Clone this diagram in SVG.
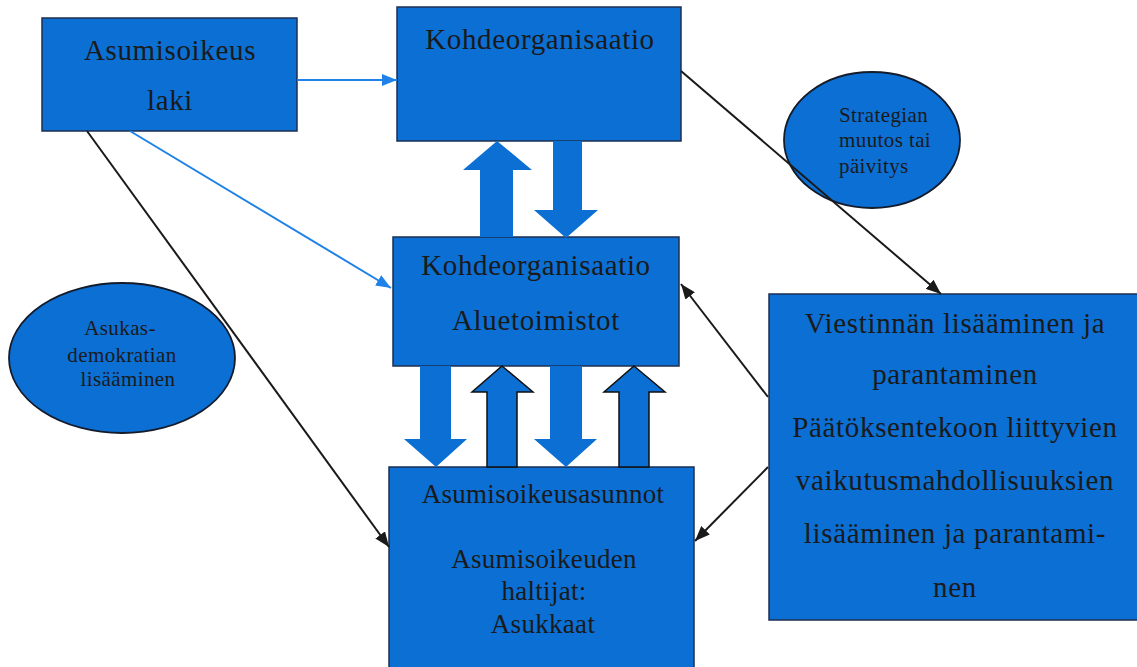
<svg xmlns="http://www.w3.org/2000/svg" width="1137" height="667" viewBox="0 0 1137 667">
<style>
.box{fill:#0b6fd4;stroke:#1c2f52;stroke-width:1.5}
.ell{fill:#0b6fd4;stroke:#141c2c;stroke-width:1.8}
.t{font-family:"Liberation Serif","Times New Roman",serif;fill:#1a1a1a;text-anchor:middle}
.big{font-size:29px;letter-spacing:0.65px}
.mid{font-size:27px;letter-spacing:0.3px}
.sm{font-size:21px;letter-spacing:0.4px}
.st{text-anchor:start}
.blk{stroke:#1a1a1a;stroke-width:2;fill:none}
.blu{stroke:#1f82e6;stroke-width:2;fill:none}
.ba{fill:#0b6fd4}
.bao{fill:#0b6fd4;stroke:#111;stroke-width:1.5}
</style>
<defs>
<marker id="ab" viewBox="0 0 15 12" refX="15" refY="6" markerWidth="15" markerHeight="12" markerUnits="userSpaceOnUse" orient="auto">
<path d="M0,0 L15,6 L0,12 z" fill="#1a1a1a"/>
</marker>
<marker id="au" viewBox="0 0 15 12" refX="15" refY="6" markerWidth="15" markerHeight="12" markerUnits="userSpaceOnUse" orient="auto">
<path d="M0,0 L15,6 L0,12 z" fill="#1f82e6"/>
</marker>
</defs>
<rect width="1137" height="667" fill="#ffffff"/>

<g id="laki">
<rect class="box" x="42" y="18" width="255" height="113"/>
<text class="t big" x="170" y="60">Asumisoikeus</text>
<text class="t big" x="170" y="110">laki</text>
</g>

<g id="kohde">
<rect class="box" x="397" y="7" width="284" height="134"/>
<text class="t big" x="540" y="49">Kohdeorganisaatio</text>
</g>

<g id="alue">
<rect class="box" x="393" y="237" width="286" height="129"/>
<text class="t big" x="536" y="275">Kohdeorganisaatio</text>
<text class="t big" x="536" y="330">Aluetoimistot</text>
</g>

<g id="asunnot">
<rect class="box" x="389" y="467" width="305" height="210"/>
<text class="t mid" x="543" y="503">Asumisoikeusasunnot</text>
<text class="t mid" x="544" y="568">Asumisoikeuden</text>
<text class="t mid" x="544" y="600">haltijat:</text>
<text class="t mid" x="543" y="633">Asukkaat</text>
</g>

<g id="viestinta">
<rect class="box" x="769" y="294" width="370" height="326"/>
<text class="t big" x="955" y="333">Viestinnän lisääminen ja</text>
<text class="t big" x="955" y="384">parantaminen</text>
<text class="t big" x="955" y="437">Päätöksentekoon liittyvien</text>
<text class="t big" x="955" y="490">vaikutusmahdollisuuksien</text>
<text class="t big" x="955" y="543">lisääminen ja parantami-</text>
<text class="t big" x="955" y="597">nen</text>
</g>

<g id="strategia">
<ellipse class="ell" cx="872" cy="140" rx="88" ry="68"/>
<text class="t sm st" x="839" y="122">Strategian</text>
<text class="t sm st" x="839" y="147">muutos tai</text>
<text class="t sm st" x="839" y="173">päivitys</text>
</g>

<g id="demokratia">
<ellipse class="ell" cx="122" cy="358" rx="113" ry="75"/>
<text class="t sm" x="120" y="335">Asukas-</text>
<text class="t sm" x="122" y="362">demokratian</text>
<text class="t sm" x="128" y="386">lisääminen</text>
</g>

<g id="connectors">
<line class="blu" x1="297" y1="80" x2="397" y2="80" marker-end="url(#au)"/>
<line class="blu" x1="130" y1="131" x2="391" y2="288" marker-end="url(#au)"/>
<line class="blk" x1="87" y1="131" x2="389" y2="547" marker-end="url(#ab)"/>
<line class="blk" x1="681" y1="71" x2="941" y2="294" marker-end="url(#ab)"/>
<line class="blk" x1="768" y1="397" x2="681" y2="284" marker-end="url(#ab)"/>
<line class="blk" x1="768" y1="467" x2="695" y2="541" marker-end="url(#ab)"/>
<path class="ba" d="M497,141 L532,170 L513,170 L513,237 L480,237 L480,170 L463,170 Z"/>
<path class="ba" d="M553,141 L582,141 L582,210 L598,210 L566,238 L534,210 L553,210 Z"/>
<path class="ba" d="M420,366 L451,366 L451,439 L467,439 L436,467 L404,439 L420,439 Z"/>
<path class="bao" d="M502,366 L533,392 L517,392 L517,467 L487,467 L487,392 L472,392 Z"/>
<path class="ba" d="M550,366 L582,366 L582,439 L597,439 L566,467 L534,439 L550,439 Z"/>
<path class="bao" d="M634,366 L665,392 L649,392 L649,467 L619,467 L619,392 L604,392 Z"/>
</g>
</svg>
